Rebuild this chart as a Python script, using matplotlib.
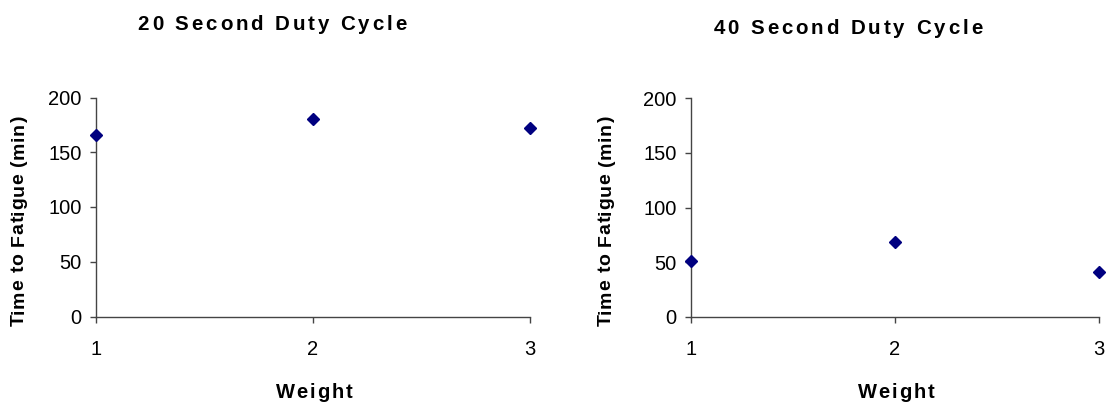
import matplotlib
matplotlib.use("Agg")
import matplotlib.pyplot as plt
from matplotlib.font_manager import FontProperties

# Time to fatigue (minutes) for each weight level, per duty cycle
weights = [1, 2, 3]
fatigue_20s = [166, 180, 172]
fatigue_40s = [51, 68, 41]
titles = ["20 Second Duty Cycle", "40 Second Duty Cycle"]
x_label = "Weight"
y_label = "Time to Fatigue (min)"
y_ticks = [0, 50, 100, 150, 200]

W, H = 1107, 404
FONT = "Liberation Sans"
plt.rcParams["font.family"] = [FONT, "DejaVu Sans"]

fig = plt.figure(figsize=(W / 100, H / 100), dpi=100)
fig.patch.set_facecolor("white")


def spaced_text(s, cx, cy, size, gap, rotation=0):
    """Bold text with extra letter spacing, centred on pixel (cx, cy) from top-left."""
    r = fig.canvas.get_renderer()
    prop = FontProperties(family=FONT, weight="bold", size=size)

    def width(t):
        return r.get_text_width_height_descent(t, prop, ismath=False)[0]

    base = width("I")
    adv = [width(s[:i] + "I") - base for i in range(len(s) + 1)]
    total = adv[len(s)] + (len(s) - 1) * gap
    start = -total / 2
    for i, ch in enumerate(s):
        if ch == " ":
            continue
        off = start + adv[i] + i * gap
        if rotation == 0:
            fig.text((cx + off) / W, 1 - cy / H, ch, fontproperties=prop,
                     ha="left", va="center_baseline", color="black")
        else:
            fig.text(cx / W, 1 - (cy - off) / H, ch, fontproperties=prop,
                     rotation=90, ha="center", va="bottom", color="black")


def make_panel(rect, values):
    ax = fig.add_axes(rect)
    ax.plot(weights, values, linestyle="none", marker="D", markersize=6,
            color="#000080", markeredgecolor="#000080", clip_on=False, zorder=5)
    ax.set_xlim(1, 3)
    ax.set_ylim(0, 200)
    ax.set_xticks(weights)
    ax.set_yticks(y_ticks)
    for side in ("top", "right"):
        ax.spines[side].set_visible(False)
    for side in ("left", "bottom"):
        ax.spines[side].set_color("#444444")
        ax.spines[side].set_linewidth(1.0)
    ax.tick_params(axis="both", direction="out", length=4.5, width=1.0,
                   color="#444444", labelsize=14.5, labelcolor="black")
    ax.tick_params(axis="y", pad=6)
    ax.tick_params(axis="x", pad=12.5)
    for lab in ax.get_xticklabels() + ax.get_yticklabels():
        lab.set_fontfamily(FONT)
    ax.set_facecolor("white")
    return ax


ax1 = make_panel([96 / W, (H - 316.5) / H, (530 - 96) / W, (316.5 - 97.5) / H], fatigue_20s)
ax2 = make_panel([691 / W, (H - 316.5) / H, (1099 - 691) / W, (316.5 - 98.5) / H], fatigue_40s)

fig.canvas.draw()

spaced_text(titles[0], 272, 23, 14.8, 2.9)
spaced_text(titles[1], 848, 27, 14.8, 2.9)
spaced_text(x_label, 314, 391, 14.5, 2.0)
spaced_text(x_label, 896, 391, 14.5, 2.0)
spaced_text(y_label, 19, 221, 14, 0.7, rotation=90)
spaced_text(y_label, 606, 221, 14, 0.7, rotation=90)

fig.savefig("out.png", dpi=100, facecolor="white")
